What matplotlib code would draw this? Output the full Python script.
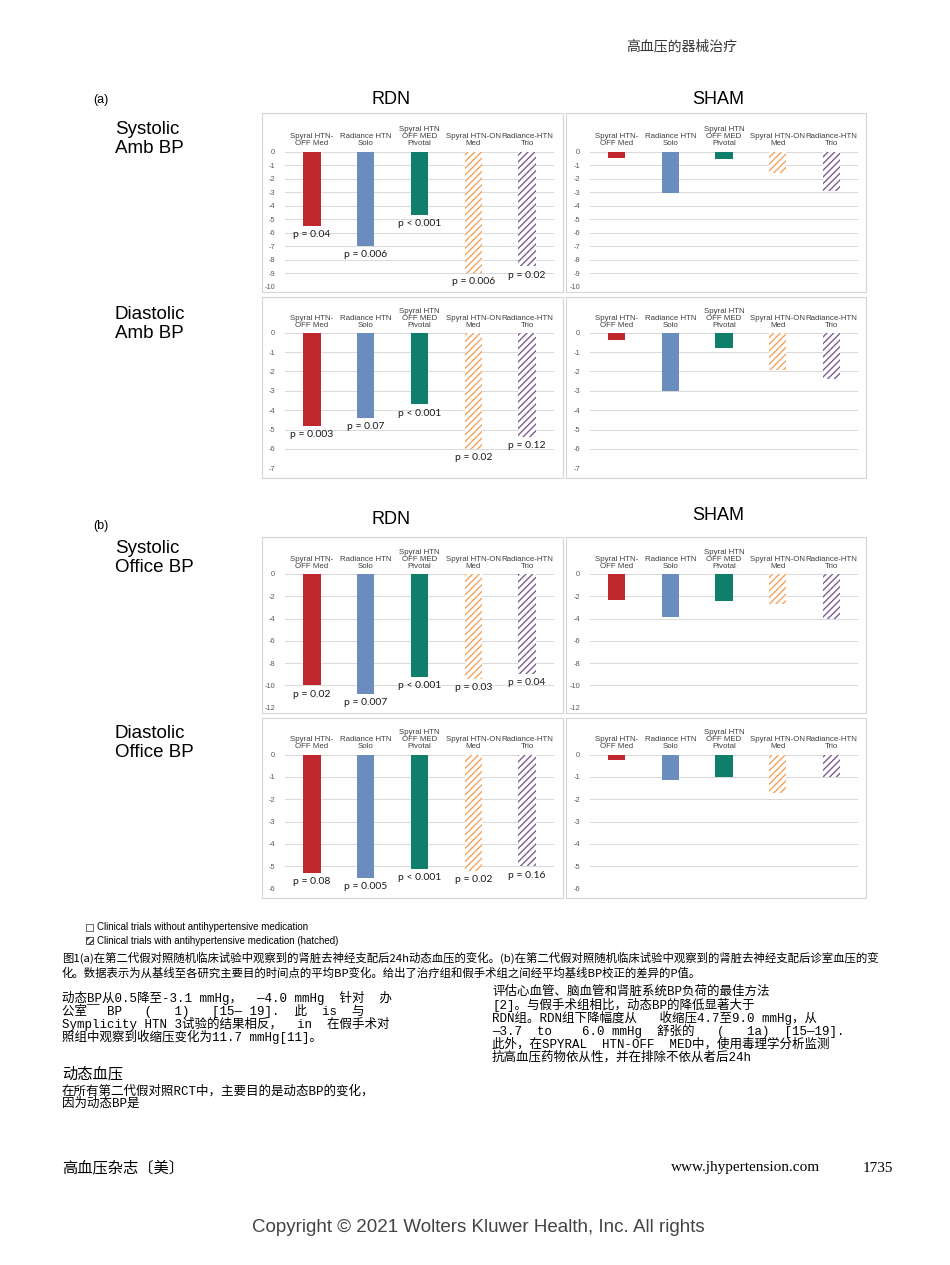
import matplotlib
matplotlib.use('Agg')
import matplotlib.pyplot as plt
from matplotlib.patches import Rectangle

plt.rcParams['font.family'] = ['Liberation Sans', 'Noto Sans CJK SC', 'DejaVu Sans']
plt.rcParams['axes.unicode_minus'] = False
plt.rcParams['hatch.linewidth'] = 1.0

# trials (same order in every panel)
trials = ['Spyral HTN-\nOFF Med', 'Radiance HTN\nSolo', 'Spyral HTN\nOFF MED\nPivotal',
          'Spyral HTN-ON\nMed', 'Radiance-HTN\nTrio']
bar_colors = ['#C0272D', '#6A8DBE', '#0F7E6A', '#F3A35F', '#7E5E92']
hatched = [False, False, False, True, True]

# mean BP change from baseline (mmHg)
rdn_sys_amb = [-5.5, -7.0, -4.7, -9.0, -8.5]
sham_sys_amb = [-0.45, -3.05, -0.55, -1.6, -2.9]
rdn_dia_amb = [-4.8, -4.4, -3.7, -6.0, -5.4]
sham_dia_amb = [-0.4, -3.0, -0.8, -1.9, -2.4]
rdn_sys_office = [-10.0, -10.8, -9.2, -9.4, -9.0]
sham_sys_office = [-2.3, -3.9, -2.45, -2.65, -4.0]
rdn_dia_office = [-5.3, -5.5, -5.1, -5.2, -5.0]
sham_dia_office = [-0.25, -1.15, -1.0, -1.7, -1.0]

# p values (RDN vs sham)
p_sys_amb = ['p = 0.04', 'p = 0.006', 'p < 0.001', 'p = 0.006', 'p = 0.02']
p_dia_amb = ['p = 0.003', 'p = 0.07', 'p < 0.001', 'p = 0.02', 'p = 0.12']
p_sys_office = ['p = 0.02', 'p = 0.007', 'p < 0.001', 'p = 0.03', 'p = 0.04']
p_dia_office = ['p = 0.08', 'p = 0.005', 'p < 0.001', 'p = 0.02', 'p = 0.16']

W, H = 950, 1265
fig = plt.figure(figsize=(W / 100, H / 100), dpi=100)


def fx(x):
    return x / W


def fy(y):
    return 1 - y / H


def add_box(l, t, r, b):
    fig.patches.append(Rectangle((fx(l), fy(b)), fx(r - l), (b - t) / H,
                                 transform=fig.transFigure, fill=False,
                                 edgecolor='#D4D4D4', lw=0.8))


def draw_panel(l, t, r, b, values, ymin, step, pvals=None):
    ax = fig.add_axes([fx(l), fy(b), fx(r - l), (b - t) / H])
    for i, v in enumerate(values):
        if hatched[i]:
            ax.bar(i, v, width=0.32, color='white', edgecolor=bar_colors[i],
                   hatch='/////', lw=0, zorder=2)
        else:
            ax.bar(i, v, width=0.32, color=bar_colors[i], zorder=2)
        if pvals:
            ax.annotate(pvals[i], (i, v), xytext=(0, -3), textcoords='offset points',
                        ha='center', va='top', fontsize=7.5, family='Lato',
                        color='#1A1A1A')
    ax.set_xlim(-0.5, 4.5)
    ax.set_ylim(ymin, 0)
    ax.set_yticks(list(range(0, ymin - 1, -step)))
    ax.yaxis.grid(True, color='#D9D9D9', lw=0.7)
    ax.set_axisbelow(True)
    for s in ax.spines.values():
        s.set_visible(False)
    ax.xaxis.tick_top()
    ax.set_xticks(range(5))
    ax.set_xticklabels(trials, fontsize=5.7, color='#404040', linespacing=1.0)
    ax.tick_params(axis='x', length=0, pad=3)
    ax.tick_params(axis='y', length=0, pad=7, labelsize=5.3, labelcolor='#595959')
    return ax


# panel rows: box top/bottom, plot top/bottom, y-range
rows = [
    (113, 292, 151.5, 286.7, -10, 1, rdn_sys_amb, sham_sys_amb, p_sys_amb),
    (297, 478, 332.7, 468.3, -7, 1, rdn_dia_amb, sham_dia_amb, p_dia_amb),
    (537, 713, 574.0, 707.7, -12, 2, rdn_sys_office, sham_sys_office, p_sys_office),
    (718, 898, 754.5, 888.7, -6, 1, rdn_dia_office, sham_dia_office, p_dia_office),
]
for bt, bb, pt, pb, ymin, step, rdn, sham, pv in rows:
    add_box(262, bt, 563, bb)
    add_box(566, bt, 866, bb)
    draw_panel(285, pt, 554, pb, rdn, ymin, step, pv)
    draw_panel(590, pt, 858, pb, sham, ymin, step)

# headings and row labels
fig.text(fx(93), fy(100), '(a)', fontsize=9, va='center')
fig.text(fx(93), fy(526), '(b)', fontsize=9, va='center')
fig.text(fx(391), fy(100), 'RDN', fontsize=13, ha='center', va='center')
fig.text(fx(718), fy(99), 'SHAM', fontsize=13, ha='center', va='center')
fig.text(fx(391), fy(519), 'RDN', fontsize=13, ha='center', va='center')
fig.text(fx(718), fy(516), 'SHAM', fontsize=13, ha='center', va='center')

row_labels = [('Systolic\nAmb BP', 121), ('Diastolic\nAmb BP', 306),
              ('Systolic\nOffice BP', 540), ('Diastolic\nOffice BP', 725)]
for txt, y in row_labels:
    fig.text(fx(115), fy(y), txt, fontsize=13.5, va='top', linespacing=1.12)

# legend
fig.patches.append(Rectangle((fx(86), fy(931)), fx(7), 7 / H, transform=fig.transFigure,
                             fill=False, edgecolor='#555555', lw=0.6))
fig.patches.append(Rectangle((fx(86), fy(944)), fx(7), 7 / H, transform=fig.transFigure,
                             facecolor='white', edgecolor='#333333', lw=0.6, hatch='/////'))
fig.text(fx(97), fy(927.5), 'Clinical trials without antihypertensive medication',
         fontsize=7, va='center')
fig.text(fx(97), fy(940.5), 'Clinical trials with antihypertensive medication (hatched)',
         fontsize=7, va='center')

cjk = ['Noto Sans CJK SC', 'DejaVu Sans']
mono_cjk = ['Liberation Mono', 'Noto Sans CJK SC', 'DejaVu Sans']

fig.text(fx(737), fy(46), '高血压的器械治疗', fontsize=10, ha='right', va='center',
         family=cjk, color='#333333')

caption = ['图1(a)在第二代假对照随机临床试验中观察到的肾脏去神经支配后24h动态血压的变化。(b)在第二代假对照随机临床试验中观察到的肾脏去神经支配后诊室血压的变',
           '化。数据表示为从基线至各研究主要目的时间点的平均BP变化。给出了治疗组和假手术组之间经平均基线BP校正的差异的P值。']
fig.text(fx(62), fy(958), caption[0], fontsize=8.2, va='center', family=cjk)
fig.text(fx(62), fy(973), caption[1], fontsize=8.2, va='center', family=cjk)

left_col = ['动态BP从0.5降至-3.1 mmHg，  —4.0 mmHg  针对  办',
            '公室￣ BP   (   1)   [15— 19].  此  is  与',
            'Symplicity HTN 3试验的结果相反，  in  在假手术对',
            '照组中观察到收缩压变化为11.7 mmHg[11]。']
left_col2 = ['在所有第二代假对照RCT中，主要目的是动态BP的变化，',
             '因为动态BP是']
right_col = ['评估心血管、脑血管和肾脏系统BP负荷的最佳方法',
             '[2]。与假手术组相比，动态BP的降低显著大于',
             'RDN组。RDN组下降幅度从   收缩压4.7至9.0 mmHg，从',
             '—3.7  to    6.0 mmHg  舒张的   (   1a)  [15—19].',
             '此外，在SPYRAL  HTN-OFF  MED中，使用毒理学分析监测',
             '抗高血压药物依从性，并在排除不依从者后24h']
for i, line in enumerate(left_col):
    fig.text(fx(62), fy(998 + 13 * i), line, fontsize=9, va='center', family=mono_cjk)
fig.text(fx(62), fy(1074), '动态血压', fontsize=11, va='center', family=cjk)
for i, line in enumerate(left_col2):
    fig.text(fx(62), fy(1091 + 13 * i), line, fontsize=9, va='center', family=mono_cjk)
for i, line in enumerate(right_col):
    fig.text(fx(492), fy(992 + 13 * i), line, fontsize=9, va='center', family=mono_cjk)

# footer
fig.text(fx(62), fy(1168), '高血压杂志〔美〕', fontsize=11, va='center', family=cjk)
fig.text(fx(820), fy(1168), 'www.jhypertension.com', fontsize=11, ha='right', va='center',
         family='Liberation Serif')
fig.text(fx(893), fy(1168), '1735', fontsize=11, ha='right', va='center',
         family='Liberation Serif')
fig.text(0.503, fy(1228), 'Copyright © 2021 Wolters Kluwer Health, Inc. All rights',
         fontsize=13.5, ha='center', va='center', color='#444444')

fig.savefig('out.png', dpi=100)
